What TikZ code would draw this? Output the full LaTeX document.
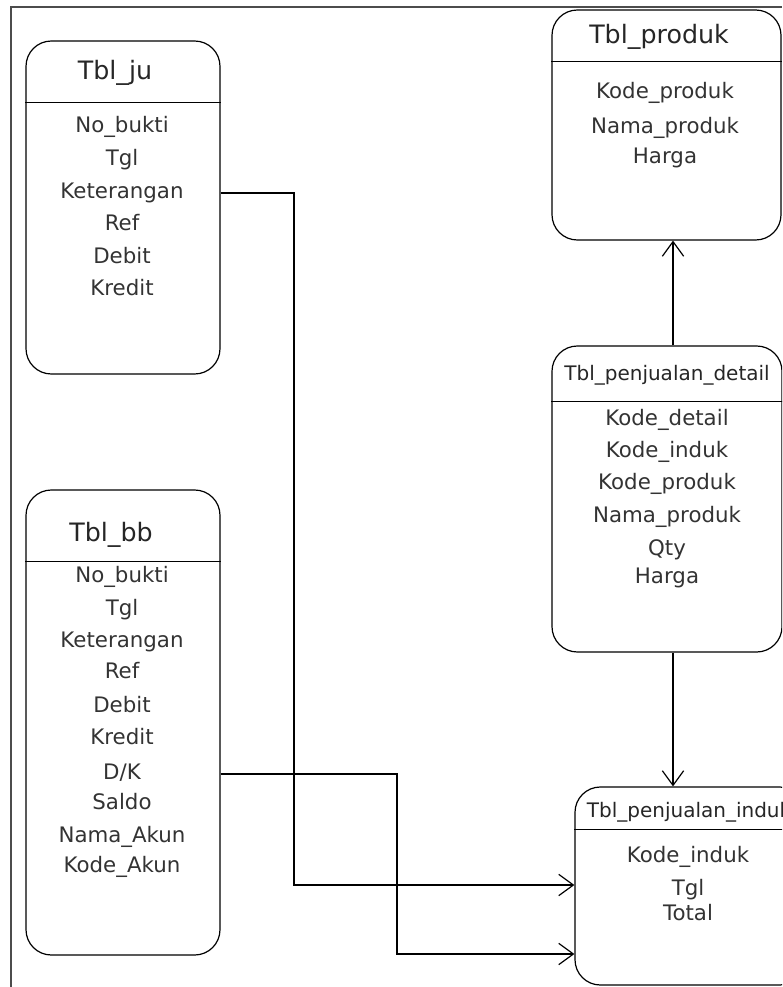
\documentclass[tikz,border=0pt]{standalone}
\usepackage{fontspec}
\setmainfont{DejaVu Sans}
\usetikzlibrary{arrows.meta,positioning}

\tikzset{
  tbl/.style={draw, line width=0.9pt, rounded corners=19pt, inner sep=0pt},
  sep/.style={draw, line width=0.9pt},
  ttl/.style={font=\fontsize{19}{22}\selectfont, text=black!85, inner sep=0pt, text height=14pt, text depth=4pt},
  ttlsm/.style={font=\fontsize{15}{18}\selectfont, text=black!85, inner sep=0pt, text height=11pt, text depth=3pt},
  fld/.style={font=\fontsize{16}{19}\selectfont, text=black!80, inner sep=0pt, text height=12pt, text depth=3.5pt},
  rel/.style={draw, line width=0.9pt, -{Straight Barb[length=11pt,width=16pt,line width=0.9pt]}},
  frame/.style={draw=gray!60!black, line width=0.8pt}
}

\begin{document}
\begin{tikzpicture}[x=0.75pt, y=-0.75pt]
    \useasboundingbox (0,0) rectangle (782,987);
    \clip (0,0) rectangle (782,987);
    \draw[frame] (11,987) -- (11,7) -- (782,7);

    % tables
    \node[tbl, minimum width=145.5pt, minimum height=249.75pt] (ju) at (123,207.5) {};
    \node[tbl, minimum width=145.5pt, minimum height=348.75pt] (bb) at (123,722.5) {};
    \node[tbl, minimum width=171.75pt, minimum height=172.5pt] (produk) at (666.5,125) {};
    \node[tbl, minimum width=172.5pt, minimum height=229.5pt] (detail) at (667,499) {};
    \node[tbl, minimum width=172.5pt, minimum height=148.5pt] (induk) at (690,886) {};

    \draw[sep] ([yshift=-46.5pt]ju.north west) -- ([yshift=-46.5pt]ju.north east);
    \draw[sep] ([yshift=-54pt]bb.north west) -- ([yshift=-54pt]bb.north east);
    \draw[sep] ([yshift=-39pt]produk.north west) -- ([yshift=-39pt]produk.north east);
    \draw[sep] ([yshift=-42pt]detail.north west) -- ([yshift=-42pt]detail.north east);
    \draw[sep] ([yshift=-32.25pt]induk.north west) -- ([yshift=-32.25pt]induk.north east);

    % titles
    \node[ttl] (ju-t) at (115,73) {Tbl\_ju};
    \node[ttl] (bb-t) at (111,535) {Tbl\_bb};
    \node[ttl] (produk-t) at (659,37) {Tbl\_produk};
    \node[ttlsm] (detail-t) at (667,375) {Tbl\_penjualan\_detail};
    \node[ttlsm] (induk-t) at (689,812) {Tbl\_penjualan\_induk};

    % fields
    \node[fld] (ju-1) at (122,127) {No\_bukti};
    \node[fld] (ju-2) at (122,160) {Tgl};
    \node[fld] (ju-3) at (122,193) {Keterangan};
    \node[fld] (ju-4) at (122,225) {Ref};
    \node[fld] (ju-5) at (122,258) {Debit};
    \node[fld] (ju-6) at (122,290) {Kredit};

    \node[fld] (bb-1) at (122,577) {No\_bukti};
    \node[fld] (bb-2) at (122,610) {Tgl};
    \node[fld] (bb-3) at (122,642) {Keterangan};
    \node[fld] (bb-4) at (122,673) {Ref};
    \node[fld] (bb-5) at (122,707) {Debit};
    \node[fld] (bb-6) at (122,739) {Kredit};
    \node[fld] (bb-7) at (122,774) {D/K};
    \node[fld] (bb-8) at (122,804) {Saldo};
    \node[fld] (bb-9) at (122,837) {Nama\_Akun};
    \node[fld] (bb-10) at (122,867) {Kode\_Akun};

    \node[fld] (produk-1) at (665,93) {Kode\_produk};
    \node[fld] (produk-2) at (665,128) {Nama\_produk};
    \node[fld] (produk-3) at (665,158) {Harga};

    \node[fld] (detail-1) at (667,420) {Kode\_detail};
    \node[fld] (detail-2) at (667,452) {Kode\_induk};
    \node[fld] (detail-3) at (667,484) {Kode\_produk};
    \node[fld] (detail-4) at (667,517) {Nama\_produk};
    \node[fld] (detail-5) at (667,550) {Qty};
    \node[fld] (detail-6) at (667,578) {Harga};

    \node[fld] (induk-1) at (688,857) {Kode\_induk};
    \node[fld] (induk-2) at (688,890) {Tgl};
    \node[fld] (induk-3) at (688,915) {Total};

    % relations
    \coordinate (c1) at (294,885);
    \coordinate (c2) at (397,954);
    \coordinate (c3) at (673,0);
    \draw[rel] (ju-3 -| ju.east) -| (c1) -- (c1 -| induk.west);
    \draw[rel] (bb-7 -| bb.east) -| (c2) -- (c2 -| induk.west);
    \draw[rel] (detail.north -| c3) -- (produk.south -| c3);
    \draw[rel] (detail.south -| c3) -- (induk.north -| c3);
\end{tikzpicture}
\end{document}
